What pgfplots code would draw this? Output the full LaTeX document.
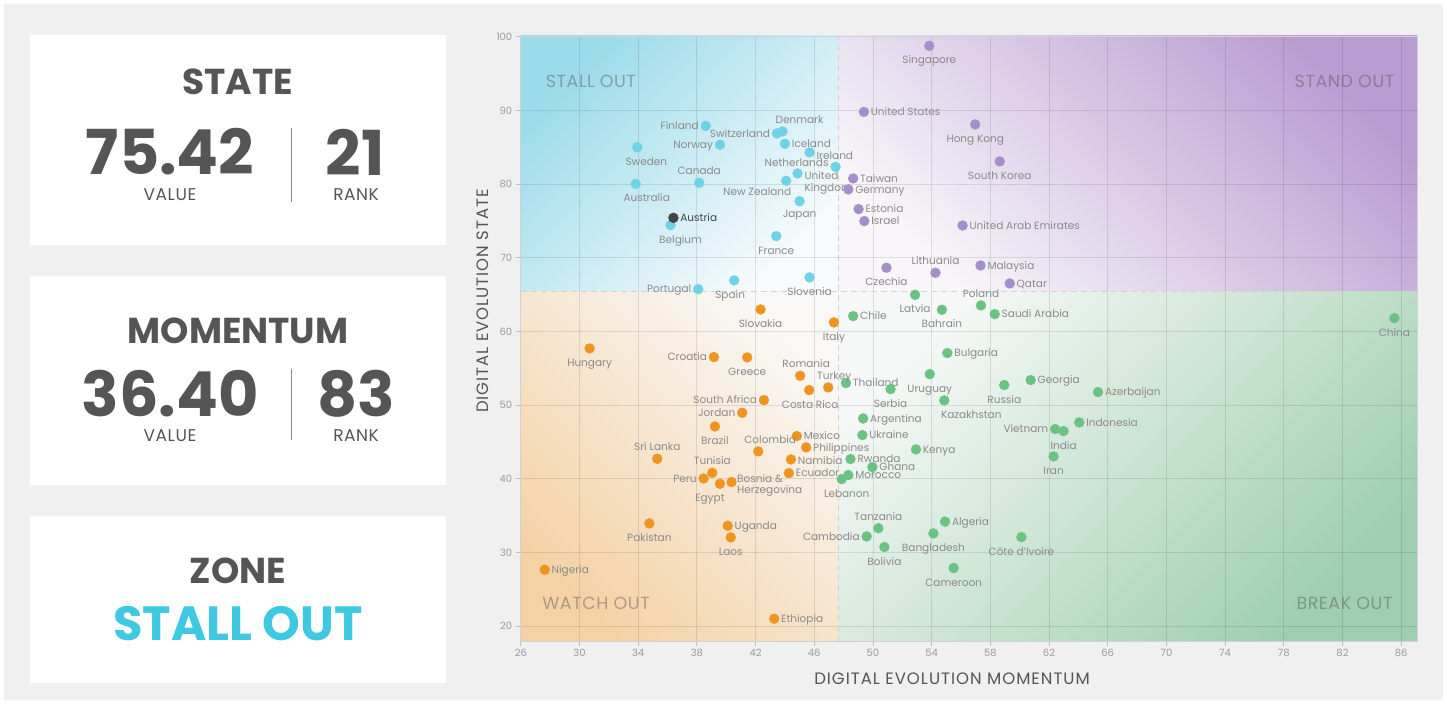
\documentclass[border=0pt]{standalone}
\usepackage{fontspec}
\setmainfont{Poppins}
\usepackage{pgfplots}
\usepackage{pgfplotstable}
\pgfplotsset{compat=1.18}
\definecolor{bggray}{HTML}{F0F0F0}
\definecolor{dark}{HTML}{555555}
\definecolor{zonecyan}{HTML}{3EC8E2}
\definecolor{cyanpt}{HTML}{6FD2E6}
\definecolor{purplept}{HTML}{A58FCA}
\definecolor{greenpt}{HTML}{6BC383}
\definecolor{orangept}{HTML}{EF951F}
\definecolor{labgray}{HTML}{8A8A8A}
\definecolor{tickgray}{HTML}{9A9A9A}
\definecolor{austria}{HTML}{444444}
\definecolor{cA}{HTML}{9BDBEA}\definecolor{cM}{HTML}{CFEEF4}\definecolor{cB}{HTML}{F8FBFC}
\definecolor{pA}{HTML}{B99DD2}\definecolor{pM}{HTML}{E2D7EB}\definecolor{pB}{HTML}{F8F6F9}
\definecolor{gA}{HTML}{9FCFAE}\definecolor{gM}{HTML}{DAEADF}\definecolor{gB}{HTML}{F5F8F6}
\definecolor{oA}{HTML}{F4D2A6}\definecolor{oM}{HTML}{F6E8D8}\definecolor{oB}{HTML}{F9F8F6}
\newcommand\lab{\fontsize{10.5}{12.5}\selectfont}
\newcommand\tickf{\fontsize{10}{12}\selectfont}
% label placement macros: {dx}{dy}{text}
\protected\def\Lr#1#2#3{\makebox[0pt][l]{\hspace*{\dimexpr7pt+#1pt\relax}\raisebox{\dimexpr#2pt-3.6pt\relax}[0pt][0pt]{#3}}}
\protected\def\Ll#1#2#3{\makebox[0pt][r]{\raisebox{\dimexpr#2pt-3.6pt\relax}[0pt][0pt]{#3}\hspace*{\dimexpr7pt-#1pt\relax}}}
\protected\def\Lb#1#2#3{\makebox[0pt][c]{\hspace*{#1pt}\hspace*{#1pt}\raisebox{\dimexpr#2pt-18pt\relax}[0pt][0pt]{#3}}}
\protected\def\La#1#2#3{\makebox[0pt][c]{\hspace*{#1pt}\hspace*{#1pt}\raisebox{\dimexpr#2pt+8pt\relax}[0pt][0pt]{#3}}}
\protected\def\Lm#1#2#3#4{\makebox[0pt][l]{\hspace*{\dimexpr7pt+#1pt\relax}\raisebox{#2pt}[0pt][0pt]{\rlap{#3}}\raisebox{\dimexpr#2pt-11.5pt\relax}[0pt][0pt]{#4}}}

\pgfplotstableread[col sep=comma]{
x,y,label,e
38.6,87.9,\Ll{0}{0}{Finland},0
43.45,86.88,\Ll{0}{0}{Switzerland},0
43.84,87.15,\La{17}{0}{Denmark},0
39.57,85.34,\Ll{0}{0}{Norway},0
44.0,85.47,\Lr{0}{0}{Iceland},0
33.94,85.0,\Lb{9}{0}{Sweden},0
45.68,84.3,\Lr{0}{-3}{Ireland},0
47.45,82.35,\Ll{0}{3.5}{Netherlands},0
44.86,81.45,\Lm{0}{-6.4}{United}{Kingdom},0
44.09,80.45,\Lb{-29}{3}{New Zealand},0
45.0,77.69,\Lb{0}{2}{Japan},0
38.16,80.18,\La{0}{0}{Canada},0
33.83,80.04,\Lb{11}{0}{Australia},0
36.21,74.44,\Lb{10}{0}{Belgium},0
43.41,72.94,\Lb{0}{0}{France},0
38.09,65.75,\Ll{0}{0}{Portugal},0
40.54,66.93,\Lb{-4}{0}{Spain},0
45.68,67.34,\Lb{0}{0}{Slovenia},0
}\cyantab

\pgfplotstableread[col sep=comma]{
x,y,label,e
53.84,98.77,\Lb{0}{0}{Singapore},0
49.38,89.8,\Lr{0}{0}{United States},0
56.97,88.1,\Lb{0}{0}{Hong Kong},0
58.64,83.08,\Lb{0}{0}{South Korea},0
48.65,80.77,\Lr{0}{0}{Taiwan},0
48.32,79.28,\Lr{0}{0}{Germany},0
49.02,76.61,\Lr{0}{0}{Estonia},0
49.41,74.98,\Lr{0}{0}{Israel},0
56.11,74.39,\Lr{0}{0}{United Arab Emirates},0
50.92,68.65,\Lb{0}{0}{Czechia},0
54.26,67.97,\La{0}{0}{Lithuania},0
57.33,68.96,\Lr{0}{0}{Malaysia},0
59.32,66.52,\Lr{0}{0}{Qatar},0
}\purpletab

\pgfplotstableread[col sep=comma]{
x,y,label,e
52.87,64.98,\Lb{0}{0}{Latvia},0
57.36,63.54,\La{0}{0}{Poland},0
54.7,62.95,\Lb{0}{0}{Bahrain},0
58.3,62.36,\Lr{0}{0}{Saudi Arabia},0
48.65,62.09,\Lr{0}{0}{Chile},0
85.54,61.82,\Lb{0}{0}{China},0
55.07,57.07,\Lr{0}{0}{Bulgaria},0
53.87,54.22,\Lb{0}{0}{Uruguay},0
48.16,53.0,\Lr{0}{0}{Thailand},0
51.2,52.18,\Lb{0}{0}{Serbia},0
58.95,52.73,\Lb{0}{0}{Russia},0
60.75,53.41,\Lr{0}{0}{Georgia},0
65.34,51.78,\Lr{0}{0}{Azerbaijan},0
54.86,50.65,\Lb{27}{0}{Kazakhstan},0
49.33,48.2,\Lr{0}{0}{Argentina},0
64.06,47.66,\Lr{0}{0}{Indonesia},0
49.28,45.94,\Lr{0}{0}{Ukraine},0
62.42,46.76,\Ll{0}{0}{Vietnam},0
62.99,46.49,\Lb{0}{0}{India},0
52.93,44.0,\Lr{0}{0}{Kenya},0
62.31,43.05,\Lb{0}{0}{Iran},0
48.47,42.69,\Lr{0}{0}{Rwanda},0
49.96,41.6,\Lr{0}{0}{Ghana},0
48.32,40.52,\Lr{0}{0}{Morocco},0
47.87,39.97,\Lb{5}{0}{Lebanon},0
50.37,33.3,\La{0}{0}{Tanzania},0
54.91,34.2,\Lr{0}{0}{Algeria},0
49.57,32.19,\Ll{0}{0}{Cambodia},0
54.12,32.6,\Lb{0}{0}{Bangladesh},0
50.78,30.75,\Lb{0}{0}{Bolivia},0
60.12,32.1,\Lb{0}{0}{Côte d'Ivoire},0
55.5,27.9,\Lb{0}{0}{Cameroon},0
}\greentab

\pgfplotstableread[col sep=comma]{
x,y,label,e
42.34,62.99,\Lb{0}{0}{Slovakia},0
47.34,61.23,\Lb{0}{0}{Italy},0
30.69,57.7,\Lb{0}{0}{Hungary},0
39.16,56.53,\Ll{0}{0}{Croatia},0
41.43,56.48,\Lb{0}{0}{Greece},0
45.04,53.99,\La{6}{0}{Romania},0
46.95,52.41,\La{6}{0}{Turkey},0
45.65,52.05,\Lb{1}{0}{Costa Rica},0
42.57,50.69,\Ll{0}{0}{South Africa},0
41.09,48.97,\Ll{0}{0}{Jordan},0
39.23,47.12,\Lb{0}{0}{Brazil},0
44.81,45.81,\Lr{0}{0}{Mexico},0
45.45,44.27,\Lr{0}{0}{Philippines},0
42.18,43.73,\La{12}{0}{Colombia},0
35.3,42.73,\La{0}{0}{Sri Lanka},0
44.41,42.64,\Lr{0}{-1.7}{Namibia},0
39.05,40.83,\La{0}{0}{Tunisia},0
44.27,40.79,\Lr{0}{0}{Ecuador},0
38.46,40.06,\Ll{0}{0}{Peru},0
39.57,39.34,\Lb{-10}{0}{Egypt},0
40.36,39.57,\Lm{-1.3}{0}{Bosnia \&}{Herzegovina},0
34.76,33.96,\Lb{0}{0}{Pakistan},0
40.1,33.64,\Lr{0}{0}{Uganda},0
40.31,32.06,\Lb{0}{0}{Laos},0
27.63,27.67,\Lr{0}{0}{Nigeria},0
43.27,21.02,\Lr{0}{0}{Ethiopia},0
}\orangetab

\pgfplotstableread[col sep=comma]{
x,y,label,e
36.40,75.42,\Lr{0}{0}{Austria},0
}\austriatab

\pgfplotsset{
  cpts/.style={only marks, mark=*, mark size=4.9pt,
    mark options={draw=#1, fill=#1, line width=0.5pt}},
}

\begin{document}
\begin{tikzpicture}[x=1pt,y=1pt]
\useasboundingbox (0,0) rectangle (1447,704);
\fill[white] (0,0) rectangle (1447,704);
\fill[bggray] (4,4) rectangle (1443,700);
% panels
\fill[white] (30,459) rectangle (446,669);
\fill[white] (30,219) rectangle (446,428);
\fill[white] (30,21) rectangle (446,188);
\begin{scope}[every node/.style={inner sep=0pt, text=dark}]
\node at (237.5,622) {\fontsize{36}{40}\selectfont\bfseries STATE};
\node at (170,552) {\fontsize{62}{66}\selectfont\bfseries 75.42};
\node at (355,552) {\fontsize{62}{66}\selectfont\bfseries 21};
\node at (170,509) {\fontsize{17}{20}\selectfont\addfontfeatures{LetterSpace=3} VALUE};
\node at (356,509) {\fontsize{17}{20}\selectfont\addfontfeatures{LetterSpace=3} RANK};
\draw[dark!70, line width=1pt] (291,576) -- (291,502);
\node at (238,373) {\fontsize{36}{40}\selectfont\bfseries MOMENTUM};
\node at (170,310) {\fontsize{62}{66}\selectfont\bfseries 36.40};
\node at (356,310) {\fontsize{62}{66}\selectfont\bfseries 83};
\node at (170,268) {\fontsize{17}{20}\selectfont\addfontfeatures{LetterSpace=3} VALUE};
\node at (356,268) {\fontsize{17}{20}\selectfont\addfontfeatures{LetterSpace=3} RANK};
\draw[dark!70, line width=1pt] (291,335) -- (291,264);
\node at (238,133) {\fontsize{36}{40}\selectfont\bfseries ZONE};
\node[text=zonecyan] at (238,80) {\fontsize{48}{52}\selectfont\bfseries STALL OUT};
\end{scope}
% quadrant backgrounds (plot area x 520.8..1417.3, y 63..668; split at 838.3, 412.3)
\shade[top color=cA, middle color=cM, bottom color=cB, shading angle=45] (520.8,412.3) rectangle (838.3,668);
\shade[top color=pA, middle color=pM, bottom color=pB, shading angle=-45] (838.3,412.3) rectangle (1417.3,668);
\shade[top color=gB, middle color=gM, bottom color=gA, shading angle=45] (838.3,63) rectangle (1417.3,412.3);
\shade[top color=oB, middle color=oM, bottom color=oA, shading angle=-45] (520.8,63) rectangle (838.3,412.3);
% axis titles
\node[text=dark, inner sep=0pt] at (952,25) {\fontsize{16.5}{19}\selectfont\addfontfeatures{LetterSpace=6}DIGITAL EVOLUTION MOMENTUM};
\node[text=dark, inner sep=0pt, rotate=90] at (483,403) {\fontsize{16.5}{19}\selectfont\addfontfeatures{LetterSpace=6}DIGITAL EVOLUTION STATE};
\begin{axis}[
  at={(520.8pt,63pt)}, anchor=south west,
  scale only axis, width=896.5pt, height=605pt,
  xmin=26, xmax=87.1, ymin=18, ymax=100.1,
  xtick={26,30,...,86}, ytick={20,30,...,100},
  grid=major, grid style={black, opacity=0.1, line width=0.8pt},
  axis line style={black!18, line width=0.8pt},
  tick align=outside, major tick length=5pt,
  tick style={black!25, line width=0.8pt},
  tick pos=left,
  ticklabel style={font=\tickf, text=tickgray},
  /pgf/number format/assume math mode=true,
  clip=false,
  nodes near coords, point meta=explicit symbolic,
  every node near coord/.append style={anchor=center, outer sep=0pt, inner sep=0pt, font=\lab, text=labgray},
]
\draw[black!18, line width=0.8pt, dash pattern=on 6pt off 4pt] (axis cs:47.63,18) -- (axis cs:47.63,100.1);
\draw[black!18, line width=0.8pt, dash pattern=on 6pt off 4pt] (axis cs:26,65.4) -- (axis cs:87.1,65.4);
\node[text=black!70, text opacity=0.42, inner sep=0pt] at (axis cs:30.78,93.98) {\fontsize{17.5}{20}\selectfont\addfontfeatures{LetterSpace=3}STALL OUT};
\node[text=black!70, text opacity=0.42, inner sep=0pt] at (axis cs:82.14,93.98) {\fontsize{17.5}{20}\selectfont\addfontfeatures{LetterSpace=3}STAND OUT};
\node[text=black!70, text opacity=0.42, inner sep=0pt] at (axis cs:31.13,23.15) {\fontsize{17.5}{20}\selectfont\addfontfeatures{LetterSpace=3}WATCH OUT};
\node[text=black!70, text opacity=0.42, inner sep=0pt] at (axis cs:82.14,23.15) {\fontsize{17.5}{20}\selectfont\addfontfeatures{LetterSpace=3}BREAK OUT};
\addplot[cpts=cyanpt] table[x=x,y=y,meta=label]{\cyantab};
\addplot[cpts=purplept] table[x=x,y=y,meta=label]{\purpletab};
\addplot[cpts=greenpt] table[x=x,y=y,meta=label]{\greentab};
\addplot[cpts=orangept] table[x=x,y=y,meta=label]{\orangetab};
\addplot[cpts=austria, every node near coord/.append style={text=austria}] table[x=x,y=y,meta=label]{\austriatab};
\end{axis}
\end{tikzpicture}
\end{document}
